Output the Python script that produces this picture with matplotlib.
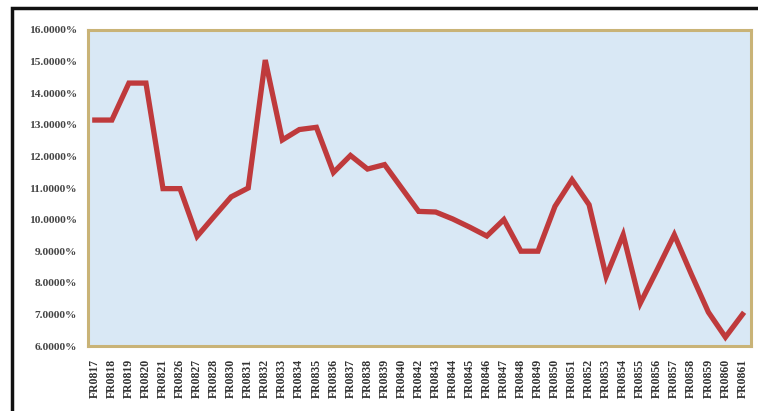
import numpy as np
import matplotlib.pyplot as plt
from matplotlib.patches import Rectangle

# rótulos das séries
labels = ['FR0817', 'FR0818', 'FR0819', 'FR0820', 'FR0821', 'FR0826', 'FR0827',
          'FR0828', 'FR0830', 'FR0831', 'FR0832', 'FR0833', 'FR0834', 'FR0835',
          'FR0836', 'FR0837', 'FR0838', 'FR0839', 'FR0840', 'FR0842', 'FR0843',
          'FR0844', 'FR0845', 'FR0846', 'FR0847', 'FR0848', 'FR0849', 'FR0850',
          'FR0851', 'FR0852', 'FR0853', 'FR0854', 'FR0855', 'FR0856', 'FR0857',
          'FR0858', 'FR0859', 'FR0860', 'FR0861']

# valores em %
values = [13.15, 13.15, 14.32, 14.32, 10.98, 10.98, 9.47,
          10.10, 10.72, 11.00, 15.05, 12.52, 12.85, 12.92,
          11.49, 12.03, 11.60, 11.74, 11.00, 10.26, 10.24,
          10.02, 9.76, 9.48, 10.00, 9.00, 9.00, 10.42,
          11.26, 10.47, 8.20, 9.52, 7.35, 8.42, 9.52,
          8.27, 7.07, 6.28, 7.00]

yticks = np.arange(6, 17, 1)

fig = plt.figure(figsize=(7.58, 4.11), dpi=100)
fig.patch.set_facecolor('white')

# moldura preta externa
fig.patches.append(Rectangle((12 / 758, -0.05), 1.0, 1 - 8 / 411 + 0.05,
                             transform=fig.transFigure, fill=False,
                             edgecolor='#111111', linewidth=2.5))

ax = fig.add_axes([88 / 758, 1 - 346 / 411, (751 - 88) / 758, (346 - 30) / 411])
ax.set_facecolor('#d9e8f5')

x = np.arange(len(labels))
ax.plot(x, values, color='#bf3a3c', linewidth=3.8, solid_joinstyle='miter')

ax.set_ylim(6, 16)
ax.set_xlim(-0.4, len(labels) - 0.5)
ax.set_yticks(yticks)
ax.set_yticklabels([f'{v:.4f}%' for v in yticks], fontfamily='Liberation Serif',
                   fontsize=8.2, fontweight='bold', color='#444444')
ax.set_xticks(x)
ax.set_xticklabels(labels, rotation=90, fontfamily='Liberation Serif',
                   fontsize=8.5, fontweight='bold', color='#333333')
ax.tick_params(axis='y', length=0, pad=8)
ax.tick_params(axis='x', length=0, pad=9)

for s in ax.spines.values():
    s.set_color('#c9b377')
    s.set_linewidth(2.2)

fig.savefig('out.png', dpi=100)
